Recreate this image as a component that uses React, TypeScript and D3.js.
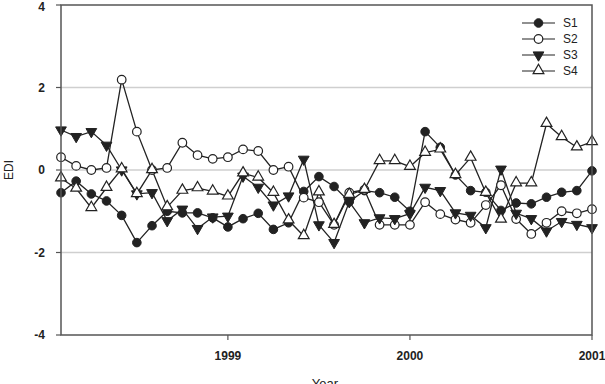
import React from 'react';
import * as d3 from 'd3';

// monthly points, Feb 1998 .. Jan 2001
const months = d3.range(36).map(i => 1998 + (i + 1) / 12);

const s1 = [-0.55, -0.27, -0.58, -0.75, -1.1, -1.76, -1.35, -1.0, -1.04, -1.04, -1.16, -1.38,
  -1.18, -1.05, -1.44, -1.28, -0.52, -0.16, -0.4, -0.77, -0.5, -0.55, -0.66, -1.0,
  0.93, 0.55, -0.12, -0.5, -0.54, -0.98, -0.8, -0.82, -0.66, -0.54, -0.5, -0.02];
const s2 = [0.31, 0.1, 0.0, 0.05, 2.19, 0.93, 0.0, 0.05, 0.66, 0.36, 0.27, 0.31,
  0.5, 0.46, 0.0, 0.08, -0.67, -0.78, -1.33, -0.55, -0.48, -1.33, -1.33, -1.33,
  -0.78, -1.07, -1.2, -1.28, -0.85, -0.37, -1.19, -1.55, -1.28, -1.0, -1.05, -0.95];
const s3 = [0.97, 0.81, 0.93, 0.6, 0.0, -0.58, -0.55, -1.23, -0.95, -1.42, -1.14, -1.12,
  -0.15, -0.42, -0.85, -0.63, 0.26, -1.33, -1.76, -0.77, -1.28, -1.16, -1.18, -1.06,
  -0.42, -0.5, -1.04, -1.1, -1.4, 0.02, -1.05, -1.18, -1.48, -1.25, -1.32, -1.4];
const s4 = [-0.2, -0.45, -0.92, -0.43, 0.02, -0.58, 0.0, -0.9, -0.5, -0.44, -0.52, -0.64,
  -0.08, -0.18, -0.55, -1.22, -1.6, -0.54, -1.33, -0.6, -0.48, 0.22, 0.22, 0.08,
  0.42, 0.5, -0.12, 0.3, -0.55, -1.2, -0.32, -0.32, 1.12, 0.8, 0.55, 0.68];

const seriesNames = ['S1', 'S2', 'S3', 'S4'];
const seriesValues = [s1, s2, s3, s4];
const yTicks = [-4, -2, 0, 2, 4];
const xTicks = [1999, 2000, 2001];

const W = 605, H = 384;
const M = { left: 61, right: 592, top: 5, bottom: 335 };
const FONT = 'Liberation Sans, Arial, sans-serif';
const INK = '#222';

const x = d3.scaleLinear().domain([1998 + 1 / 12, 2001]).range([M.left, M.right]);
const y = d3.scaleLinear().domain([-4, 4]).range([M.bottom, M.top]);

const line = d3.line<number>().x((d, i) => x(months[i])).y(d => y(d));
const tri = d3.symbol().type(d3.symbolTriangle).size(50)();

function Marker({ kind, cx, cy }: { kind: number; cx: number; cy: number }) {
  if (kind === 0) return <circle cx={cx} cy={cy} r={4.3} fill={INK} stroke={INK} strokeWidth={1} />;
  if (kind === 1) return <circle cx={cx} cy={cy} r={4.3} fill="#fff" stroke={INK} strokeWidth={1.2} />;
  if (kind === 2)
    return <path d={tri!} transform={`translate(${cx},${cy}) rotate(180)`} fill={INK} stroke={INK} strokeWidth={1} />;
  return <path d={tri!} transform={`translate(${cx},${cy - 0.5})`} fill="#fff" stroke={INK} strokeWidth={1.2} />;
}

export default function App() {
  return (
    <svg width={W} height={H} style={{ position: 'absolute', left: 0, top: 0, background: '#fff' }}>
      {/* grid */}
      {yTicks.filter(t => t > -4 && t < 4).map(t => (
        <line key={t} x1={M.left} x2={M.right} y1={y(t)} y2={y(t)} stroke="#cfcfcf" strokeWidth={1.5} />
      ))}

      {/* series */}
      {seriesValues.map((vals, k) => (
        <path key={'l' + k} d={line(vals)!} fill="none" stroke={INK} strokeWidth={1.3} />
      ))}
      {seriesValues.map((vals, k) => (
        <g key={'m' + k}>
          {vals.map((v, i) => <Marker key={i} kind={k} cx={x(months[i])} cy={y(v)} />)}
        </g>
      ))}

      {/* frame */}
      <rect x={M.left} y={M.top} width={M.right - M.left} height={M.bottom - M.top}
        fill="none" stroke="#555" strokeWidth={1.5} />

      {/* y axis */}
      {yTicks.map(t => (
        <g key={'y' + t}>
          <line x1={M.left - 5} x2={M.left} y1={y(t)} y2={y(t)} stroke="#555" strokeWidth={1.2} />
          <text x={M.left - 16} y={Math.max(y(t), 7)} dy="0.35em" textAnchor="end" fontFamily={FONT}
            fontSize={12} fontWeight="bold" fill="#222">{t}</text>
        </g>
      ))}
      <text transform={`translate(13,${y(0)}) rotate(-90)`} textAnchor="middle" fontFamily={FONT}
        fontSize={12} fill="#222">EDI</text>

      {/* x axis */}
      {xTicks.map(t => (
        <g key={'x' + t}>
          <line x1={x(t)} x2={x(t)} y1={M.bottom} y2={M.bottom + 5} stroke="#555" strokeWidth={1.2} />
          <text x={x(t)} y={M.bottom + 25} textAnchor="middle" fontFamily={FONT}
            fontSize={12} fontWeight="bold" fill="#222">{t}</text>
        </g>
      ))}
      <text x={325} y={H + 4} textAnchor="middle" fontFamily={FONT} fontSize={13} fill="#222">Year</text>

      {/* legend */}
      {seriesNames.map((name, k) => {
        const ly = 23 + k * 16;
        return (
          <g key={'lg' + k}>
            <line x1={522} x2={555} y1={ly} y2={ly} stroke={INK} strokeWidth={1.2} />
            <Marker kind={k} cx={538.5} cy={ly} />
            <text x={563} y={ly} dy="0.35em" fontFamily={FONT} fontSize={12} fill="#222">{name}</text>
          </g>
        );
      })}
    </svg>
  );
}
